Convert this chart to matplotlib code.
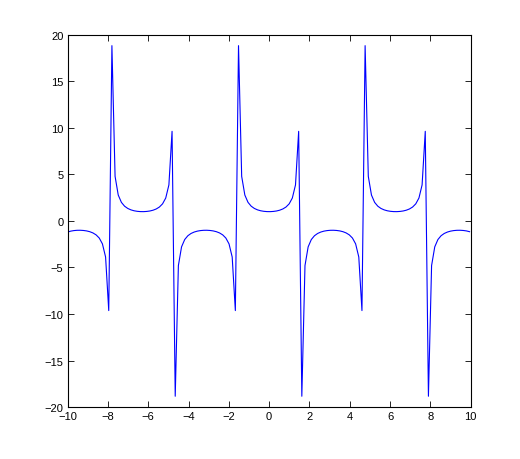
import matplotlib
matplotlib.use('Agg')
import matplotlib.pyplot as plt

plt.rcParams.update({
    'font.family': ['Liberation Sans', 'DejaVu Sans'],
    'font.size': 8,
    'xtick.direction': 'in',
    'ytick.direction': 'in',
    'xtick.top': True,
    'ytick.right': True,
    'xtick.major.size': 4,
    'ytick.major.size': 4,
    'axes.linewidth': 0.8,
})

# sample positions (evenly spaced, ~0.157 apart)
x_vals = [
    -10.000, -9.843, -9.686, -9.529, -9.372, -9.215, -9.058, -8.900, -8.743, -8.586,
    -8.429, -8.272, -8.115, -7.958, -7.801, -7.644, -7.487, -7.330, -7.173, -7.015,
    -6.858, -6.701, -6.544, -6.387, -6.230, -6.073, -5.916, -5.759, -5.602, -5.445,
    -5.288, -5.130, -4.973, -4.816, -4.659, -4.502, -4.345, -4.188, -4.031, -3.874,
    -3.717, -3.560, -3.403, -3.246, -3.088, -2.931, -2.774, -2.617, -2.460, -2.303,
    -2.146, -1.989, -1.832, -1.675, -1.518, -1.361, -1.204, -1.046, -0.889, -0.732,
    -0.575, -0.418, -0.261, -0.104, 0.053, 0.210, 0.367, 0.524, 0.681, 0.838,
    0.996, 1.153, 1.310, 1.467, 1.624, 1.781, 1.938, 2.095, 2.252, 2.409,
    2.566, 2.723, 2.881, 3.038, 3.195, 3.352, 3.509, 3.666, 3.823, 3.980,
    4.137, 4.294, 4.451, 4.608, 4.765, 4.923, 5.080, 5.237, 5.394, 5.551,
    5.708, 5.865, 6.022, 6.179, 6.336, 6.493, 6.650, 6.808, 6.965, 7.122,
    7.279, 7.436, 7.593, 7.750, 7.907, 8.064, 8.221, 8.378, 8.535, 8.692,
    8.850, 9.007, 9.164, 9.321, 9.478, 9.635, 9.792, 9.949,
]

y_vals = [
    -1.192, -1.094, -1.035, -1.005,
    -1.001, -1.023, -1.071, -1.155, -1.288, -1.496, -1.838, -2.463, -3.874, -9.634,
    18.842, 4.793, 2.785, 1.997, 1.588, 1.345, 1.192, 1.094, 1.035, 1.005,
    1.001, 1.023, 1.071, 1.155, 1.288, 1.496, 1.838, 2.463, 3.874, 9.634,
    -18.842, -4.793, -2.785, -1.997, -1.588, -1.345, -1.192, -1.094, -1.035, -1.005,
    -1.001, -1.023, -1.071, -1.155, -1.288, -1.496, -1.838, -2.463, -3.874, -9.634,
    18.842, 4.793, 2.785, 1.997, 1.588, 1.345, 1.192, 1.094, 1.035, 1.005,
    1.001, 1.023, 1.071, 1.155, 1.288, 1.496, 1.838, 2.463, 3.874, 9.634,
    -18.842, -4.793, -2.785, -1.997, -1.588, -1.345, -1.192, -1.094, -1.035, -1.005,
    -1.001, -1.023, -1.071, -1.155, -1.288, -1.496, -1.838, -2.463, -3.874, -9.634,
    18.842, 4.793, 2.785, 1.997, 1.588, 1.345, 1.192, 1.094, 1.035, 1.005,
    1.001, 1.023, 1.071, 1.155, 1.288, 1.496, 1.838, 2.463, 3.874, 9.634,
    -18.842, -4.793, -2.785, -1.997, -1.588, -1.345, -1.192, -1.094, -1.035, -1.005,
    -1.001, -1.023, -1.071, -1.155,
]

x_ticks = [-10, -8, -6, -4, -2, 0, 2, 4, 6, 8, 10]
y_ticks = [-20, -15, -10, -5, 0, 5, 10, 15, 20]

fig = plt.figure(figsize=(5.2, 4.6), dpi=100)
ax = fig.add_axes([0.13, 0.113, 0.775, 0.809])
ax.plot(x_vals, y_vals, color='#0000ff', linewidth=0.8)

ax.set_xlim(-10, 10)
ax.set_ylim(-20, 20)
ax.set_xticks(x_ticks)
ax.set_yticks(y_ticks)
ax.tick_params(pad=3, width=0.6)

fig.savefig('out.png', dpi=100)
